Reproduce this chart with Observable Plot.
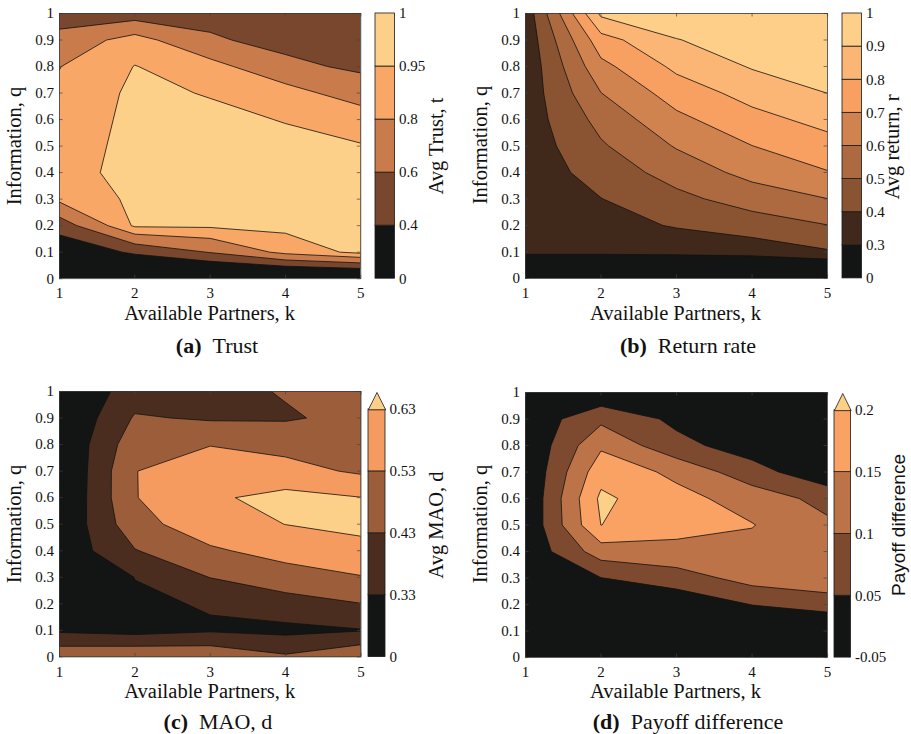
<!DOCTYPE html>
<html><head><meta charset="utf-8">
<script src="https://cdn.jsdelivr.net/npm/d3@7"></script>
<script src="https://cdn.jsdelivr.net/npm/@observablehq/plot@0.6"></script>
<style>
html,body{margin:0;padding:0;background:#fff}
body{width:911px;height:734px;position:relative;overflow:hidden}
svg{position:absolute}
svg text{font-family:'Liberation Serif','Times New Roman',serif}
</style></head><body>
<script>
// ---------- data (rows: q = 0, 0.1, ..., 1 ; columns: k = 1..5) ----------
const kTicks = [1, 2, 3, 4, 5];
const qTicks = [0, 0.1, 0.2, 0.3, 0.4, 0.5, 0.6, 0.7, 0.8, 0.9, 1];

const trustRows = [
  [0.100, 0.000, 0.000, 0.000, 0.030],
  [0.237, 0.433, 0.610, 0.850, 0.989],
  [0.488, 0.973, 0.975, 0.990, 0.990],
  [0.839, 0.978, 0.990, 0.990, 0.990],
  [0.891, 1.000, 0.995, 0.980, 0.980],
  [0.866, 1.000, 0.990, 0.984, 0.952],
  [0.838, 0.995, 0.982, 0.944, 0.934],
  [0.830, 0.980, 0.942, 0.890, 0.681],
  [0.796, 0.954, 0.875, 0.633, 0.574],
  [0.669, 0.879, 0.616, 0.560, 0.500],
  [0.500, 0.502, 0.561, 0.450, 0.450]
];
const trustThresholds = [0, 0.4, 0.6, 0.8, 0.95];
const trustColors = ["#131414", "#78472d", "#c97b4b", "#f8a767", "#fdd089"];
const trustBarLabels = ["0", "0.4", "0.6", "0.8", "0.95", "1"];

const returnRows = [
  [0.200, 0.200, 0.220, 0.073, 0.060],
  [0.310, 0.310, 0.310, 0.340, 0.390],
  [0.320, 0.355, 0.410, 0.450, 0.498],
  [0.330, 0.398, 0.474, 0.544, 0.599],
  [0.336, 0.443, 0.540, 0.632, 0.695],
  [0.339, 0.488, 0.608, 0.699, 0.764],
  [0.343, 0.533, 0.676, 0.768, 0.832],
  [0.337, 0.599, 0.746, 0.836, 0.901],
  [0.328, 0.672, 0.822, 0.908, 0.950],
  [0.331, 0.760, 0.896, 0.950, 0.970],
  [0.336, 0.920, 0.970, 0.980, 0.980]
];
const returnThresholds = [0, 0.3, 0.4, 0.5, 0.6, 0.7, 0.8, 0.9];
const returnColors = ["#131414", "#40281b", "#8a5331", "#ad6940", "#d0824f", "#f8a061", "#fbb676", "#fdcf88"];
const returnBarLabels = ["0", "0.3", "0.4", "0.5", "0.6", "0.7", "0.8", "0.9", "1"];

const maoRows = [
  [0.507, 0.521, 0.511, 0.444, 0.519],
  [0.315, 0.294, 0.319, 0.305, 0.325],
  [0.200, 0.313, 0.338, 0.391, 0.428],
  [0.173, 0.332, 0.432, 0.484, 0.525],
  [0.255, 0.425, 0.515, 0.569, 0.600],
  [0.238, 0.494, 0.590, 0.631, 0.655],
  [0.220, 0.526, 0.615, 0.660, 0.632],
  [0.214, 0.528, 0.580, 0.563, 0.516],
  [0.227, 0.490, 0.527, 0.501, 0.490],
  [0.220, 0.440, 0.419, 0.420, 0.456],
  [0.224, 0.380, 0.400, 0.437, 0.460]
];
const maoThresholds = [0, 0.33, 0.43, 0.53, 0.63];
const maoColors = ["#131414", "#4a2d1f", "#9c5e3a", "#f69b5f", "#fdd089"];
const maoBarLabels = ["0", "0.33", "0.43", "0.53", "0.63"];

const payoffRows = [
  [0.000, 0.000, 0.000, 0.000, 0.000],
  [0.000, 0.000, 0.000, 0.000, 0.000],
  [0.000, 0.020, 0.015, 0.051, 0.070],
  [0.000, 0.049, 0.075, 0.120, 0.138],
  [0.011, 0.125, 0.138, 0.135, 0.145],
  [0.005, 0.2005, 0.164, 0.152, 0.110],
  [0.002, 0.210, 0.165, 0.130, 0.082],
  [0.002, 0.181, 0.139, 0.069, 0.015],
  [0.003, 0.142, 0.064, 0.027, 0.005],
  [0.015, 0.088, 0.039, 0.010, 0.000],
  [0.000, 0.009, 0.010, 0.000, 0.000]
];
const payoffThresholds = [-0.05, 0.05, 0.1, 0.15, 0.2];
const payoffColors = ["#131414", "#7d4a2f", "#bc7348", "#f9a264", "#fdd089"];
const payoffBarLabels = ["-0.05", "0.05", "0.1", "0.15", "0.2"];

// ---------- drawing ----------
const SERIF = "'Liberation Serif', 'Times New Roman', serif";
const SANS = "'Liberation Sans', Arial, sans-serif";
const PLOT_STYLE = "font-family: 'Liberation Serif', 'Times New Roman', serif; font-size: 15px; color: #111; background: transparent; overflow: visible;";
const fmtQ = d => String(Math.round(d * 10) / 10);

function place(svg, left, top) {
  svg.style.position = "absolute";
  svg.style.left = left + "px";
  svg.style.top = top + "px";
  document.body.appendChild(svg);
}

function contourPanel(rows, thresholds, colors, box) {
  const ml = 52, mr = 8, mt = 8, mb = 30;
  const W = box.R - box.L, H = box.B - box.T;
  const tx = 3.5 / H, ty = 3.5 / (W / 4);
  const svg = Plot.plot({
    width: W + ml + mr, height: H + mt + mb,
    marginLeft: ml, marginRight: mr, marginTop: mt, marginBottom: mb,
    style: PLOT_STYLE,
    x: {domain: [1, 5], ticks: kTicks, tickSize: 0, tickPadding: 9, tickFormat: d => String(d), label: null},
    y: {domain: [0, 1], ticks: qTicks, tickSize: 0, tickPadding: 5.5, tickFormat: fmtQ, label: null},
    color: {type: "threshold", domain: thresholds.slice(1), range: colors},
    marks: [
      Plot.contour(rows.flat(), {
        value: Plot.identity,
        width: 5, height: 11, x1: 0.5, x2: 5.5, y1: -0.05, y2: 1.05,
        thresholds, fill: "value", stroke: "#111", strokeWidth: 0.8, clip: true
      }),
      Plot.ruleX(kTicks, {x: d => d, y1: 0, y2: tx, stroke: "#444", strokeWidth: 0.7}),
      Plot.ruleX(kTicks, {x: d => d, y1: 1 - tx, y2: 1, stroke: "#444", strokeWidth: 0.7}),
      Plot.ruleY(qTicks, {y: d => d, x1: 1, x2: 1 + ty, stroke: "#444", strokeWidth: 0.7}),
      Plot.ruleY(qTicks, {y: d => d, x1: 5 - ty, x2: 5, stroke: "#444", strokeWidth: 0.7}),
      Plot.frame({stroke: "#3a3a3a", strokeWidth: 0.8})
    ]
  });
  place(svg, box.L - ml, box.T - mt);
}

function colorbar(box, colors, labels, tri) {
  const n = labels.length - 1;
  const bandH = (box.bottom - box.top) / n;
  const extra = tri ? (box.top - box.tip) / bandH : 0;
  const mt = 3, mb = 3, ml = 1, mr = 50;
  const W = box.R - box.L;
  const topPx = tri ? box.tip : box.top;
  const H = box.bottom - topPx;
  const bands = d3.range(n).map(i => ({lo: i, hi: i + 1, color: colors[i]}));
  const marks = [
    Plot.rect(bands, {x1: 0, x2: 1, y1: "lo", y2: "hi", fill: "color", stroke: "#1a1a1a", strokeWidth: 0.8})
  ];
  if (tri) {
    marks.push(Plot.line([{x: 0, y: n}, {x: 0.5, y: n + extra}, {x: 1, y: n}],
      {x: "x", y: "y", fill: colors[n], stroke: "#1a1a1a", strokeWidth: 0.8, curve: "linear-closed"}));
  }
  const svg = Plot.plot({
    width: W + ml + mr, height: H + mt + mb,
    marginLeft: ml, marginRight: mr, marginTop: mt, marginBottom: mb,
    style: PLOT_STYLE,
    x: {domain: [0, 1], axis: null},
    y: {domain: [0, n + extra], ticks: d3.range(n + 1), tickFormat: i => labels[i], tickSize: 0, tickPadding: 4, axis: "right", label: null},
    color: {type: "identity"},
    marks
  });
  place(svg, box.L - ml, topPx - mt);
}

const boxes = {
  a: {L: 59, R: 360.3, T: 13.3, B: 278.5},
  b: {L: 524.5, R: 826.6, T: 13.3, B: 278.2},
  c: {L: 59, R: 360.5, T: 391.2, B: 656.6},
  d: {L: 524.5, R: 826.6, T: 391.5, B: 656.6}
};

contourPanel(trustRows, trustThresholds, trustColors, boxes.a);
contourPanel(returnRows, returnThresholds, returnColors, boxes.b);
contourPanel(maoRows, maoThresholds, maoColors, boxes.c);
contourPanel(payoffRows, payoffThresholds, payoffColors, boxes.d);

colorbar({L: 375, R: 394.5, top: 13.3, bottom: 278.5}, trustColors, trustBarLabels, false);
colorbar({L: 842, R: 861.5, top: 13.3, bottom: 278.2}, returnColors, returnBarLabels, false);
colorbar({L: 367.5, R: 384.5, top: 409, bottom: 656.6, tip: 392}, maoColors, maoBarLabels, true);
colorbar({L: 834, R: 850.5, top: 409.3, bottom: 656.6, tip: 392.5}, payoffColors, payoffBarLabels, true);

// ---------- text overlay ----------
const ov = d3.create("svg").attr("width", 911).attr("height", 734)
  .style("position", "absolute").style("left", "0px").style("top", "0px").style("pointer-events", "none");

const xTitles = [
  {x: (boxes.a.L + boxes.a.R) / 2, y: boxes.a.B + 41.5},
  {x: (boxes.b.L + boxes.b.R) / 2, y: boxes.b.B + 41.5},
  {x: (boxes.c.L + boxes.c.R) / 2, y: boxes.c.B + 41.5},
  {x: (boxes.d.L + boxes.d.R) / 2, y: boxes.d.B + 41.5}
];
for (const t of xTitles) {
  ov.append("text").attr("x", t.x).attr("y", t.y).attr("text-anchor", "middle")
    .style("font-family", SERIF).attr("font-size", 20.5).attr("fill", "#111")
    .text("Available Partners, k");
}

function vText(cx, cy, txt, family, size) {
  ov.append("text").attr("transform", `translate(${cx},${cy}) rotate(-90)`)
    .attr("text-anchor", "middle").attr("dy", "0.3em")
    .style("font-family", family).attr("font-size", size).attr("fill", "#111").text(txt);
}
vText(14.5, 146, "Information, q", SERIF, 20.5);
vText(481, 145, "Information, q", SERIF, 20.5);
vText(14.5, 524, "Information, q", SERIF, 20.5);
vText(480.5, 524, "Information, q", SERIF, 20.5);

vText(437, 146, "Avg Trust, t", SERIF, 20.5);
vText(893, 147, "Avg return, r", SERIF, 20.5);
vText(437, 525, "Avg MAO, d", SERIF, 20.5);
vText(899, 525, "Payoff difference", SANS, 19);

const captions = [
  {x: 217, y: 352.5, tag: "(a)", txt: "Trust"},
  {x: 688, y: 352.5, tag: "(b)", txt: "Return rate"},
  {x: 218, y: 728.5, tag: "(c)", txt: "MAO, d"},
  {x: 688, y: 728.5, tag: "(d)", txt: "Payoff difference"}
];
for (const c of captions) {
  const t = ov.append("text").attr("x", c.x).attr("y", c.y).attr("text-anchor", "middle")
    .style("font-family", SERIF).attr("font-size", 22).attr("fill", "#111");
  t.append("tspan").attr("font-weight", "bold").text(c.tag);
  t.append("tspan").attr("dx", 11).text(c.txt);
}
document.body.appendChild(ov.node());
</script>
</body></html>
